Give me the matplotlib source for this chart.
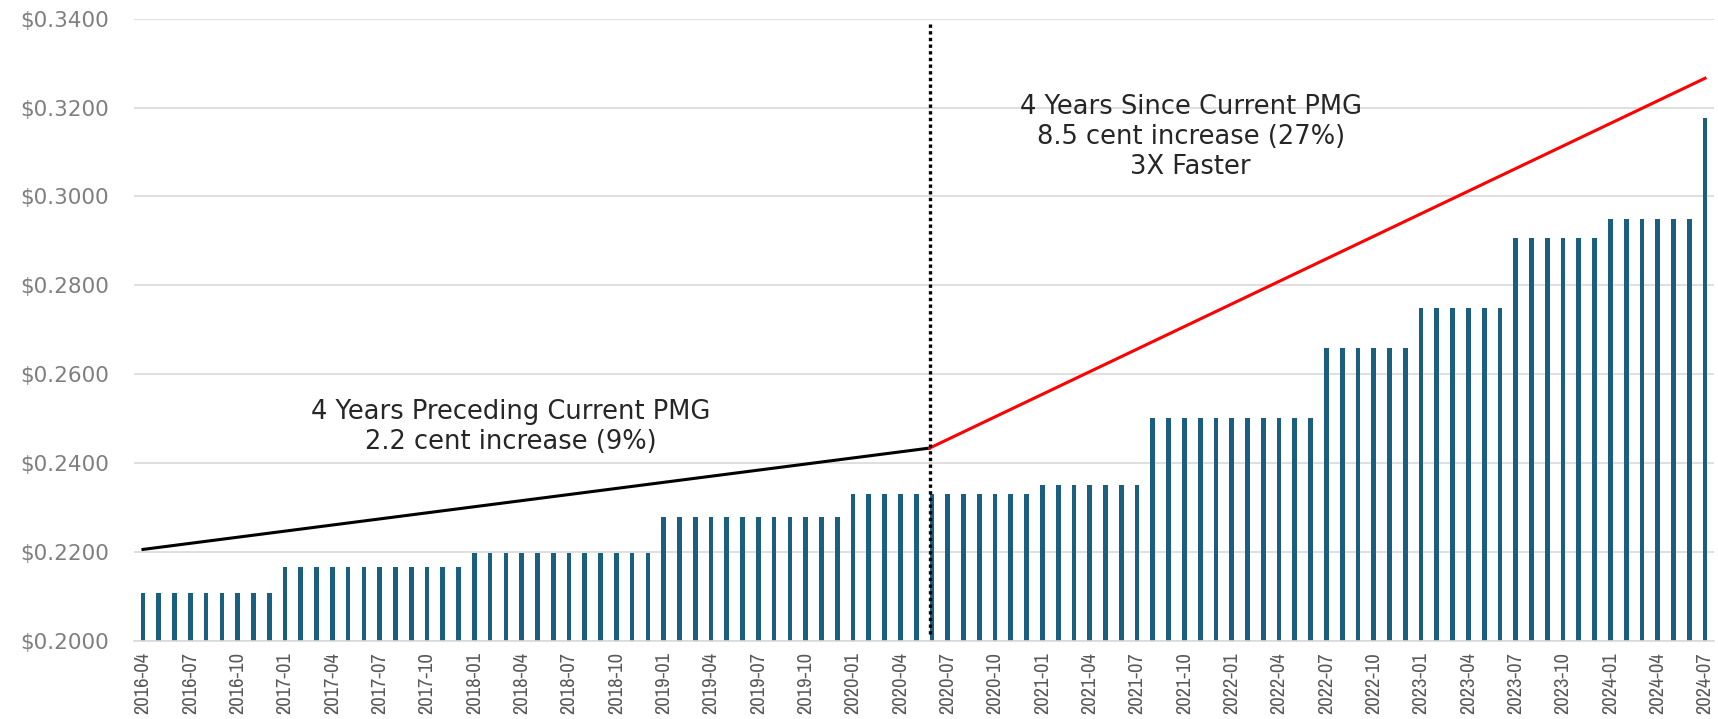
import pandas as pd
import matplotlib.pyplot as plt
from matplotlib import font_manager

# Monthly price per gallon, 2016-04 .. 2024-07
months = pd.date_range('2016-04-01', '2024-07-01', freq='MS').strftime('%Y-%m').tolist()
prices = [
    0.2108, 0.2108, 0.2108, 0.2108, 0.2108, 0.2108, 0.2108, 0.2108, 0.2108,
    0.2167, 0.2167, 0.2167, 0.2167, 0.2167, 0.2167, 0.2167, 0.2167, 0.2167, 0.2167, 0.2167, 0.2167,
    0.2199, 0.2199, 0.2199, 0.2199, 0.2199, 0.2199, 0.2199, 0.2199, 0.2199, 0.2199, 0.2199, 0.2199,
    0.2279, 0.2279, 0.2279, 0.2279, 0.2279, 0.2279, 0.2279, 0.2279, 0.2279, 0.2279, 0.2279, 0.2279,
    0.2331, 0.2331, 0.2331, 0.2331, 0.2331, 0.2331, 0.2331, 0.2331, 0.2331, 0.2331, 0.2331, 0.2331,
    0.2352, 0.2352, 0.2352, 0.2352, 0.2352, 0.2352, 0.2352,
    0.2502, 0.2502, 0.2502, 0.2502, 0.2502, 0.2502, 0.2502, 0.2502, 0.2502, 0.2502, 0.2502,
    0.2660, 0.2660, 0.2660, 0.2660, 0.2660, 0.2660,
    0.2749, 0.2749, 0.2749, 0.2749, 0.2749, 0.2749,
    0.2907, 0.2907, 0.2907, 0.2907, 0.2907, 0.2907,
    0.2950, 0.2950, 0.2950, 0.2950, 0.2950, 0.2950,
    0.3176,
]

# trend lines: before / after the current PMG (split at mid 2020)
split_x = 49.85
before_x = [0, split_x]
before_y = [0.2206, 0.2434]
after_x = [split_x, 99]
after_y = [0.2434, 0.3266]

yticks = [0.20, 0.22, 0.24, 0.26, 0.28, 0.30, 0.32, 0.34]

# look for a narrow / condensed face for the date labels
cands = [f for f in font_manager.fontManager.ttflist
         if ('Narrow' in f.name or 'Condensed' in f.name
             or str(f.stretch) in ('condensed', 'semi-condensed', 'extra-condensed'))
         and f.style == 'normal' and str(f.weight) in ('400', 'normal', 'regular')]
cands.sort(key=lambda f: f.name)
if cands:
    xfont = font_manager.FontProperties(fname=cands[0].fname)
else:
    xfont = font_manager.FontProperties(family='DejaVu Sans')

fig = plt.figure(figsize=(17.18, 7.19), dpi=100)
ax = fig.add_axes([0.078, 0.1085, 0.9197, 0.8655])

x = list(range(len(months)))
ax.bar(x, prices, width=0.3, color='#1a5e80', zorder=2)

ax.plot(before_x, before_y, color='black', lw=2.2, zorder=3)
ax.plot(after_x, after_y, color='#ff0000', lw=2.2, zorder=3)
ax.vlines(split_x, 0.2015, 0.3392, colors='black', linestyles=(0, (1, 1)), lw=2.4, zorder=4)

ax.text(23.3, 0.2481, '4 Years Preceding Current PMG\n2.2 cent increase (9%)',
        ha='center', va='center', fontsize=18.5, color='#262626', linespacing=1.18)
ax.text(66.4, 0.3134, '4 Years Since Current PMG\n8.5 cent increase (27%)\n3X Faster',
        ha='center', va='center', fontsize=18.5, color='#262626', linespacing=1.18)

ax.set_xlim(-0.57, 99.57)
ax.set_ylim(0.20, 0.34)
ax.set_yticks(yticks)
ax.set_yticklabels(['${:.4f}'.format(v) for v in yticks])
ax.set_xticks(x[::3])
ax.set_xticklabels(months[::3], rotation=90, fontproperties=xfont, color='#595959')
ax.tick_params(axis='y', length=0, pad=18, labelsize=15.5, labelcolor='#7f7f7f')
ax.tick_params(axis='x', length=0, pad=8)

ax.grid(axis='y', color='#d9d9d9', lw=1.2, zorder=0)
for s in ['top', 'right', 'left']:
    ax.spines[s].set_visible(False)
ax.spines['bottom'].set_color('#d9d9d9')
ax.spines['bottom'].set_linewidth(1.2)

# size the date labels so each is about 60 px long, like the reference
fig.canvas.draw()
lab = ax.get_xticklabels()[0]
fs = lab.get_fontsize()
length = lab.get_window_extent().height
for t in ax.get_xticklabels():
    t.set_fontsize(fs * 61.0 / length)

plt.savefig('out.png', dpi=100)
